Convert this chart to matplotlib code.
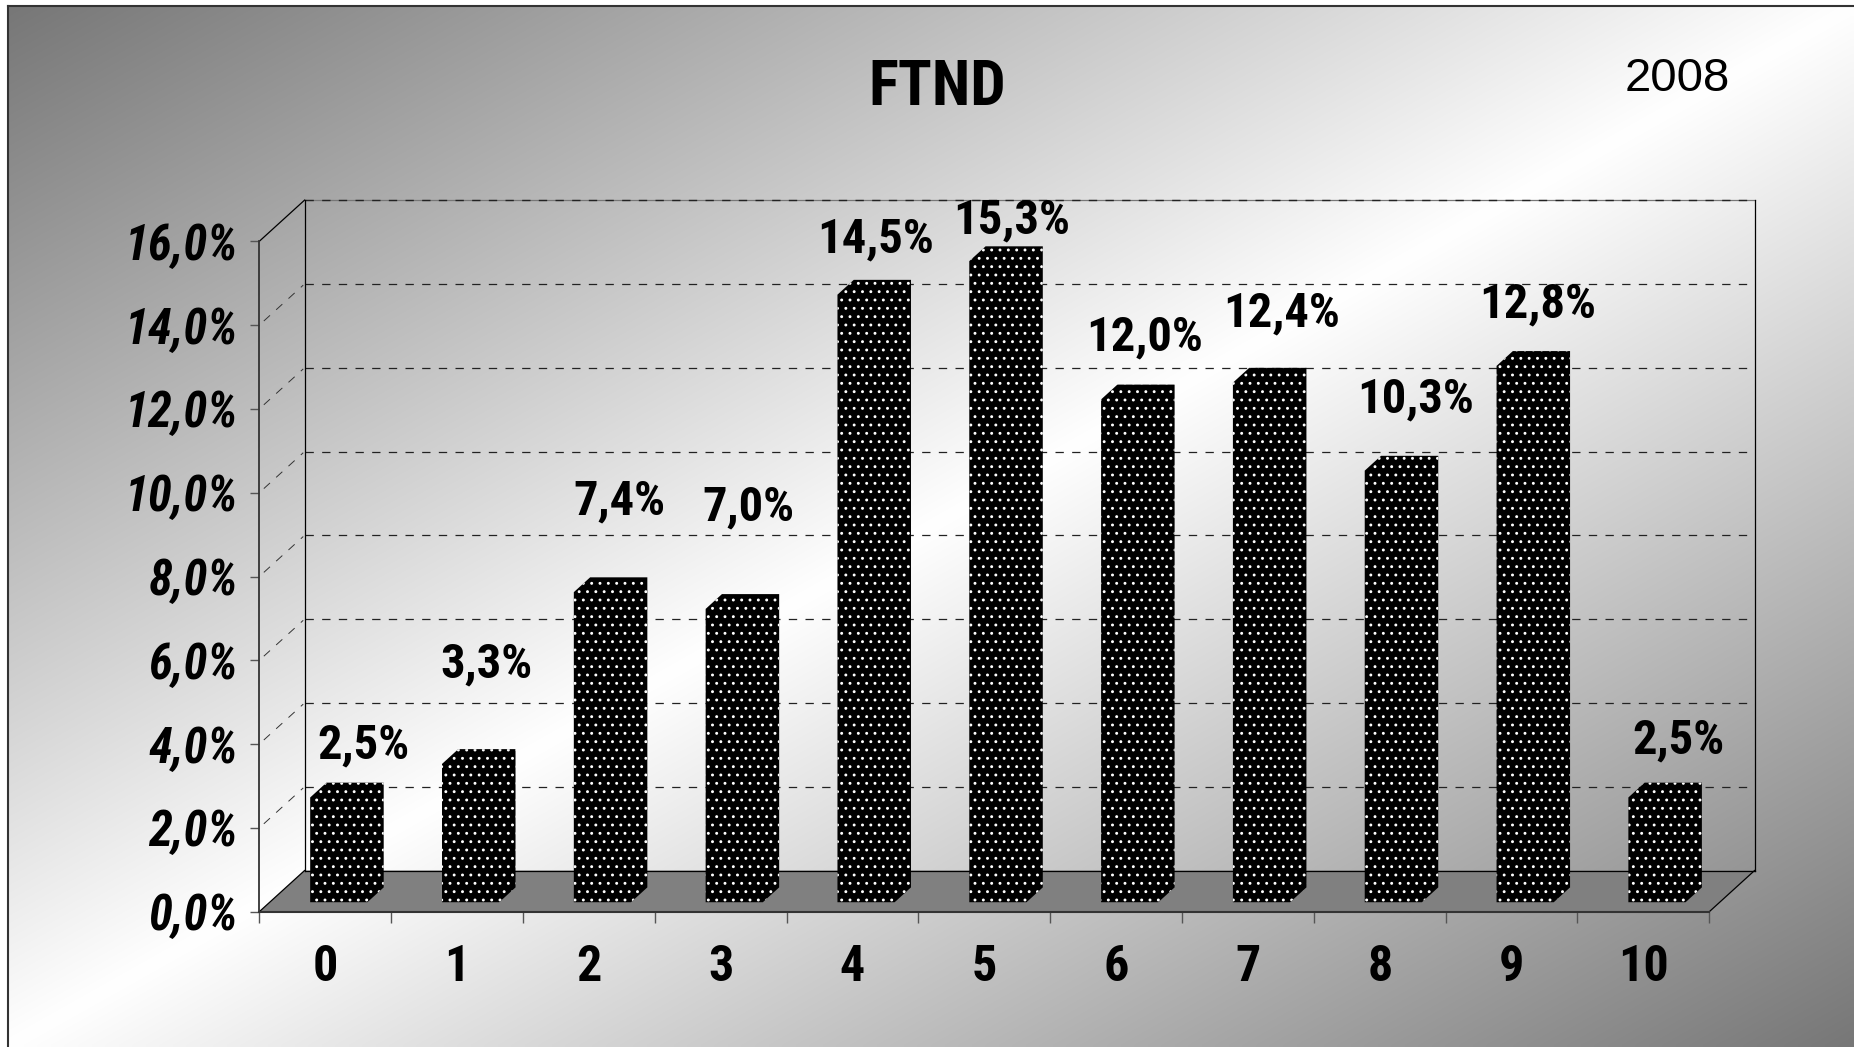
import numpy as np
import matplotlib
matplotlib.use("Agg")
import matplotlib.pyplot as plt
from matplotlib.patches import Polygon
from matplotlib.ticker import FixedLocator, FuncFormatter
from matplotlib import font_manager as fm

# ---------------- data ----------------
categories = ["0", "1", "2", "3", "4", "5", "6", "7", "8", "9", "10"]
values = [2.5, 3.3, 7.4, 7.0, 14.5, 15.3, 12.0, 12.4, 10.3, 12.8, 2.5]
value_labels = ["2,5%", "3,3%", "7,4%", "7,0%", "14,5%", "15,3%",
                "12,0%", "12,4%", "10,3%", "12,8%", "2,5%"]
y_ticks = [0, 2, 4, 6, 8, 10, 12, 14, 16]
title = "FTND"
year = "2008"

# ---------------- layout (label offsets relative to bars) -------------
label_dx = [0.294, 0.220, 0.233, 0.211, 0.177, 0.208, 0.216, 0.256, 0.270, 0.197, 0.266]
label_dy = [1.15, 2.30, 2.07, 2.33, 1.23, 0.88, 1.39, 1.56, 1.62, 1.37, 1.27]


# ---------------- fonts ----------------
def _w(x):
    if isinstance(x, str):
        return fm.weight_dict.get(x, 400)
    return int(x)


def pick(names, style):
    for n in names:
        for f in fm.fontManager.ttflist:
            if f.name == n and _w(f.weight) >= 600 and f.style == style:
                return n
    return "Liberation Sans"


NARROW_UP = pick(["Liberation Sans Narrow", "Arial Narrow", "Nimbus Sans Narrow",
                  "Roboto Condensed", "PT Sans Narrow", "Archivo Narrow",
                  "Barlow Semi Condensed", "Asap Condensed"], "normal")
NARROW_IT = pick(["Liberation Sans Narrow", "Arial Narrow", "Nimbus Sans Narrow",
                  "Roboto Condensed", "Archivo Narrow", "Barlow Semi Condensed",
                  "Asap Condensed"], "italic")
F_UP = [NARROW_UP, "DejaVu Sans"]
F_IT = [NARROW_IT, "DejaVu Sans"]

plt.rcParams["lines.scale_dashes"] = False
plt.rcParams["hatch.linewidth"] = 0.9

W, H, DPI = 1854, 1047, 100
fig = plt.figure(figsize=(W / DPI, H / DPI), dpi=DPI, facecolor="white")

# ---------------- background gradient ----------------
bg = fig.add_axes([0, 0, 1, 1], zorder=-10)
bg.set_xlim(0, W)
bg.set_ylim(H, 0)
bg.axis("off")
gx = np.linspace(0, 1, 400)
gy = np.linspace(0, 1, 240)
GX, GY = np.meshgrid(gx, gy)
t = (GX + GY) / 2.0
g = (119 + 136 * (1 - np.abs(2 * t - 1))) / 255.0
bg.imshow(np.dstack([g, g, g]), extent=(8, W, H, 6), aspect="auto",
          interpolation="bilinear", zorder=0)
bg.plot([8, 8], [6, H], color="#333333", lw=1.5, zorder=2)
bg.plot([8, W], [6, 6], color="#333333", lw=1.5, zorder=2)

# ---------------- main axes (front plane) ----------------
x0, x1 = 259.3, 1709.3
y0, y16 = 911.7, 241.3
ax = fig.add_axes([x0 / W, (H - y0) / H, (x1 - x0) / W, (y0 - y16) / H])
ax.set_xlim(-0.5, 10.5)
ax.set_ylim(0, 16)
ax.patch.set_visible(False)

DX = 45.3 / ((x1 - x0) / 11)
DY = 41.2 / ((y0 - y16) / 16)


def P(x, y, d):
    return (x + d * DX, y + d * DY)


def seg(p, q, **kw):
    ax.plot([p[0], q[0]], [p[1], q[1]], clip_on=False, **kw)


xl, xr = -0.5, 10.5
ymax = y_ticks[-1]

# floor
floor = Polygon([P(xl, 0, 0), P(xr, 0, 0), P(xr, 0, 1), P(xl, 0, 1)],
                closed=True, facecolor="#808080", edgecolor="none",
                clip_on=False, zorder=1)
ax.add_patch(floor)
seg(P(xl, 0, 1), P(xr, 0, 1), color="black", lw=0.9, zorder=1.5)
seg(P(xl, 0, 0), P(xl, 0, 1), color="black", lw=0.9, zorder=1.5)
seg(P(xr, 0, 0), P(xr, 0, 1), color="black", lw=0.9, zorder=1.5)

# back wall gridlines and side wall lines
for k in y_ticks[1:]:
    if k == ymax:
        seg(P(xl, k, 1), P(xr, k, 1), color="#777777", lw=0.9, zorder=1.2)
        seg(P(xl, k, 1), P(xr, k, 1), color="#222222", lw=1.0,
            ls=(0, (6, 6)), zorder=1.3)
        seg(P(xl, k, 0), P(xl, k, 1), color="black", lw=0.9, zorder=1.5)
    else:
        seg(P(xl, k, 1), P(xr, k, 1), color="#222222", lw=0.9,
            ls=(0, (6, 6)), zorder=1.3)
        seg(P(xl, k, 0.1), P(xl, k, 0.97), color="#333333", lw=0.7,
            ls=(0, (6, 6)), zorder=1.3)
seg(P(xl, 0, 1), P(xl, ymax, 1), color="black", lw=0.9, zorder=1.5)
seg(P(xr, 0, 1), P(xr, ymax, 1), color="black", lw=0.9, zorder=1.5)

# bars (oblique 3D boxes)
d0, d1 = 0.23, 0.59
bc, bhw = 0.024, 0.217
for i, v in enumerate(values):
    a, b = i + bc - bhw, i + bc + bhw
    verts = [P(a, 0, d0), P(a, v, d0), P(a, v, d1),
             P(b, v, d1), P(b, 0, d1), P(b, 0, d0)]
    poly = Polygon(verts, closed=True, facecolor="black", edgecolor="white",
                   lw=0, hatch="..", clip_on=False, zorder=3)
    ax.add_patch(poly)

# data labels
for i, (v, lab) in enumerate(zip(values, value_labels)):
    ax.text(i + label_dx[i], v + label_dy[i], lab, ha="center", va="baseline",
            fontsize=35, fontweight="bold", family=F_UP, zorder=5,
            clip_on=False)

# spines / ticks
for s in ["top", "right"]:
    ax.spines[s].set_visible(False)
ax.spines["left"].set_color("#333333")
ax.spines["left"].set_linewidth(1.3)
ax.spines["bottom"].set_color("#333333")
ax.spines["bottom"].set_linewidth(1.5)
ax.spines["bottom"].set_zorder(2)

ax.yaxis.set_major_locator(FixedLocator(y_ticks))
ax.yaxis.set_major_formatter(FuncFormatter(lambda v, p: f"{v:.1f}".replace(".", ",") + "%"))
ax.tick_params(axis="y", direction="out", length=6.5, width=1.0, color="#555555",
               pad=8.9)
for tl in ax.get_yticklabels():
    tl.set_fontsize(35)
    tl.set_fontweight("bold")
    tl.set_fontstyle("italic")
    tl.set_family(F_IT)

ax.set_xticks(range(len(categories)))
ax.set_xticklabels(categories)
ax.set_xticks(np.arange(-0.5, len(categories), 1.0), minor=True)
ax.tick_params(axis="x", which="major", length=0, pad=23.5)
ax.tick_params(axis="x", which="minor", direction="out", length=8, width=1.0,
               color="#555555")
for tl in ax.get_xticklabels():
    tl.set_fontsize(36)
    tl.set_fontweight("bold")
    tl.set_family(F_UP)

# titles
fig.text(937 / W, 1 - 105 / H, title, ha="center", va="baseline", fontsize=45,
         fontweight="bold", family=F_UP)
fig.text(1677 / W, 1 - 90.7 / H, year, ha="center", va="baseline", fontsize=34,
         family=["Liberation Sans", "DejaVu Sans"])

fig.savefig("out.png", dpi=DPI, facecolor="white")
